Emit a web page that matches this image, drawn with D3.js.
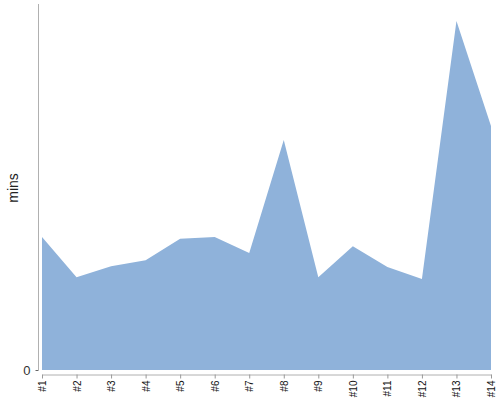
<!DOCTYPE html>
<html>
<head>
<meta charset="utf-8">
<script src="https://cdn.jsdelivr.net/npm/d3@7"></script>
<style>
  body { margin: 0; background: #fff; }
  text { font-family: "Liberation Sans", Arial, sans-serif; }
</style>
</head>
<body>
<script>
// data (minutes per item)
const categories = ["#1", "#2", "#3", "#4", "#5", "#6", "#7", "#8", "#9", "#10", "#11", "#12", "#13", "#14"];
const mins = [21.8, 15.2, 17.0, 18.0, 21.5, 21.8, 19.2, 37.7, 15.2, 20.3, 16.9, 14.9, 57.2, 40.0];
const yTicks = [0];

var margin = {top: 4, right: 9, bottom: 30, left: 42},
    width = 500 - margin.left - margin.right,
    height = 370 - margin.top;

var svg = d3.select("body").append("svg")
    .attr("width", 500)
    .attr("height", 400);

var x = d3.scalePoint()
    .domain(categories)
    .range([margin.left, margin.left + width]);

var y = d3.scaleLinear()
    .domain([0, 60])
    .range([370, margin.top]);

var area = d3.area()
    .x(function(d, i) { return x(categories[i]); })
    .y0(y(0))
    .y1(function(d) { return y(d); });

svg.append("path")
    .datum(mins)
    .attr("fill", "#8fb2da")
    .attr("d", area);

// y axis, offset a bit to the left of the plot
var yAxis = svg.append("g")
    .attr("transform", "translate(38.5,0)")
    .call(d3.axisLeft(y).tickValues(yTicks).tickSize(3).tickPadding(5));
yAxis.select(".domain").attr("stroke", "#b0b0b0").attr("d", "M0," + margin.top + "V370");
yAxis.selectAll(".tick line").attr("stroke", "#666");
yAxis.selectAll(".tick text").attr("fill", "#333").style("font-size", "13px");

svg.append("text")
    .attr("transform", "translate(18,188) rotate(-90)")
    .attr("text-anchor", "middle")
    .attr("fill", "#222")
    .style("font-size", "14px")
    .text("mins");

// x axis, offset a bit below the plot
var xAxis = svg.append("g")
    .attr("transform", "translate(0,374.5)")
    .call(d3.axisBottom(x).tickSize(4).tickSizeOuter(0));
xAxis.select(".domain").attr("stroke", "#b0b0b0");
xAxis.selectAll(".tick line").attr("stroke", "#999");
xAxis.selectAll(".tick text")
    .attr("fill", "#111")
    .style("font-size", "10px")
    .attr("text-anchor", "end")
    .attr("transform", "rotate(-90)")
    .attr("x", -6)
    .attr("y", 0)
    .attr("dy", "0.35em");
</script>
</body>
</html>
